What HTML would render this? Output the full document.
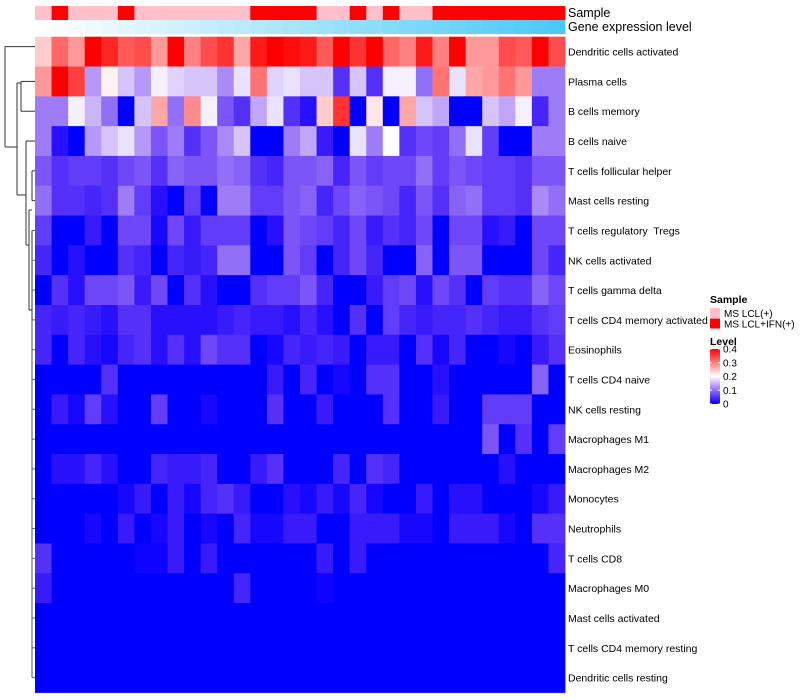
<!DOCTYPE html>
<html><head><meta charset="utf-8">
<style>
body{margin:0;background:#fff;}
svg{display:block;font-family:"Liberation Sans",Arial,sans-serif;}
text{white-space:pre;}
</style></head>
<body>
<svg id="chart" width="800" height="700" viewBox="0 0 800 700">
<g id="dendro" stroke="#333" stroke-width="1" fill="none"></g>
<g id="annot"></g>
<g id="cells"></g>
<g id="labels"></g>
<g id="legend"></g>
</svg>
<script>
const rowNames=["Dendritic cells activated","Plasma cells","B cells memory","B cells naive","T cells follicular helper","Mast cells resting","T cells regulatory  Tregs","NK cells activated","T cells gamma delta","T cells CD4 memory activated","Eosinophils","T cells CD4 naive","NK cells resting","Macrophages M1","Macrophages M2","Monocytes","Neutrophils","T cells CD8","Macrophages M0","Mast cells activated","T cells CD4 memory resting","Dendritic cells resting"];
const sampleGroup=[0,1,0,0,0,1,0,0,0,0,0,0,0,1,1,1,1,0,0,1,0,1,0,0,1,1,1,1,1,1,1,1];
const sampleNames=["MS LCL(+)","MS LCL+IFN(+)"];
const legendTicks=[0.4,0.3,0.2,0.1,0];
const r0=[0.24,0.32,0.28,0.4,0.37,0.33,0.34,0.28,0.4,0.3,0.34,0.36,0.27,0.38,0.4,0.39,0.38,0.33,0.4,0.36,0.4,0.32,0.3,0.38,0.3,0.4,0.28,0.28,0.34,0.33,0.4,0.34];
const r1=[0.28,0.4,0.35,0.13,0.21,0.16,0.13,0.19,0.17,0.16,0.16,0.12,0.18,0.31,0.17,0.18,0.16,0.16,0.05,0.16,0.05,0.19,0.19,0.1,0.31,0.18,0.27,0.28,0.31,0.28,0.11,0.11];
const r2=[0.11,0.11,0.19,0.15,0.1,0,0.16,0.27,0.1,0.29,0.19,0.08,0.05,0.14,0.18,0.05,0.02,0.24,0.36,0,0.22,0,0.27,0.16,0.14,0,0,0.16,0.14,0.19,0.04,0.11];
const r3=[0.11,0.02,0,0.13,0.16,0.18,0.13,0.08,0.11,0.05,0.08,0.12,0.16,0,0,0.11,0.14,0.03,0,0.18,0.11,0.2,0.05,0.07,0.06,0.1,0.18,0.06,0,0,0.11,0.11];
const r4=[0.08,0.05,0.06,0.06,0.05,0.07,0.08,0.05,0.09,0.08,0.08,0.1,0.09,0.05,0.04,0.08,0.08,0.09,0.04,0.08,0.06,0.07,0.07,0.1,0.06,0.08,0.07,0.06,0.06,0.05,0.08,0.08];
const r5=[0.1,0.05,0.05,0.04,0.05,0.11,0.06,0.02,0,0.06,0,0.11,0.11,0.06,0.06,0.08,0.09,0.04,0.07,0.09,0.08,0.07,0.04,0.08,0.05,0.09,0.1,0.06,0.06,0.05,0.12,0.1];
const r6=[0.06,0,0,0.03,0,0.07,0.07,0.01,0.07,0.03,0.06,0.06,0.06,0,0.02,0.08,0.07,0.06,0.04,0.07,0.03,0.05,0.04,0.07,0,0.07,0.07,0.02,0.03,0,0.07,0.07];
const r7=[0.04,0,0.02,0,0,0.05,0.04,0,0.04,0.03,0.04,0.1,0.1,0,0,0.08,0.06,0,0.04,0.07,0.04,0,0,0.09,0,0.08,0.08,0,0,0,0.07,0.04];
const r8=[0,0.05,0.02,0.07,0.07,0.08,0.03,0.07,0,0.05,0.02,0,0,0.05,0.06,0.06,0.08,0.04,0,0,0.03,0.06,0.07,0.02,0.07,0.05,0,0.06,0.05,0.05,0.09,0.07];
const r9=[0.04,0.03,0.04,0.03,0.02,0.05,0.05,0.02,0.02,0.02,0.02,0.03,0.04,0.03,0.03,0.02,0.04,0.02,0,0.05,0,0.06,0.04,0.03,0.04,0.04,0.05,0.04,0.03,0.03,0.05,0.06];
const r10=[0.04,0,0.04,0.02,0.01,0.04,0.05,0.02,0.05,0.02,0.07,0.05,0.05,0,0.01,0.04,0.03,0.04,0.03,0,0.03,0.03,0,0.05,0.01,0.04,0,0,0.01,0,0.03,0.05];
const r11=[0,0,0,0,0.05,0,0,0,0,0,0,0,0,0,0.03,0,0.04,0,0.01,0,0.05,0.05,0,0,0.02,0,0,0,0,0,0.09,0];
const r12=[0,0.03,0.01,0.06,0.02,0,0,0.06,0,0,0.01,0,0,0,0.05,0,0,0.03,0,0,0,0.05,0,0,0.03,0,0,0.06,0.06,0.06,0,0];
const r13=[0,0,0,0,0,0,0,0,0,0,0,0,0,0,0,0,0,0,0,0,0,0,0,0,0,0,0,0.08,0,0.05,0,0.06];
const r14=[0,0.02,0.02,0.04,0.02,0,0,0.04,0.03,0.03,0.04,0,0,0.03,0.05,0,0,0,0.04,0,0.05,0.04,0,0,0,0,0,0,0.02,0,0,0];
const r15=[0,0,0,0,0,0.01,0.03,0,0.03,0.01,0.04,0.05,0.03,0,0,0.02,0.01,0.03,0.01,0.04,0.01,0,0,0.03,0,0.02,0.02,0,0,0,0.01,0.03];
const r16=[0,0,0,0.01,0,0.03,0,0.01,0.03,0,0.01,0,0.04,0.01,0.01,0.03,0.03,0,0,0.03,0.03,0.03,0.01,0.01,0,0.03,0.03,0.03,0.01,0,0.05,0.05];
const r17=[0.05,0,0,0,0,0,0.005,0.005,0.03,0,0.03,0,0,0,0,0,0,0.03,0,0.03,0,0,0,0,0,0,0,0,0,0,0,0.04];
const r18=[0.03,0,0,0,0,0,0,0,0,0,0,0,0.04,0,0,0,0,0.005,0,0,0,0,0,0,0,0,0,0,0,0,0,0];
const r19=[0,0,0,0,0,0,0,0,0,0,0,0,0,0,0,0,0,0,0,0,0,0,0,0,0,0,0,0,0,0,0,0];
const r20=[0,0,0,0,0,0,0,0,0,0,0,0,0,0,0,0,0,0,0,0,0,0,0,0,0,0,0,0,0,0,0,0];
const r21=[0,0,0,0,0,0,0,0,0,0,0,0,0,0,0,0,0,0,0,0,0,0,0,0,0,0,0,0,0,0,0,0];
const values=[r0,r1,r2,r3,r4,r5,r6,r7,r8,r9,r10,r11,r12,r13,r14,r15,r16,r17,r18,r19,r20,r21];

const NS="http://www.w3.org/2000/svg";
const X0=35,X1=565,Y0=36.7,Y1=692.5;
const nC=values[0].length,nR=values.length;
const cw=(X1-X0)/nC,rh=(Y1-Y0)/nR;
const xPos=c=>X0+c*cw;
const yPos=r=>Y0+r*rh;
function col(v){
  const t=Math.max(0,Math.min(0.4,v));
  let r,g,b;
  if(t<=0.2){const f=t/0.2;r=255*Math.pow(f,0.8);g=255*Math.pow(f,1.2);b=255-8*Math.sin(Math.PI*f);}
  else{const f=(t-0.2)/0.2;r=255;g=255*(1-f);b=255*(1-f);}
  return `rgb(${Math.round(r)},${Math.round(g)},${Math.round(b)})`;
}
function mk(tag,attrs,parent){const e=document.createElementNS(NS,tag);for(const k in attrs)e.setAttribute(k,attrs[k]);parent.appendChild(e);return e;}

const cells=document.getElementById('cells');
for(let r=0;r<nR;r++)for(let c=0;c<nC;c++){
  const e=mk('rect',{x:xPos(c),y:yPos(r),width:cw+0.4,height:rh+0.4,fill:col(values[r][c])},cells);
  
  
}
const annot=document.getElementById('annot');
for(let c=0;c<nC;c++){
  const s=mk('rect',{x:xPos(c),y:6,width:cw+0.4,height:14,fill:sampleGroup[c]?'#ff0000':'#ffc0cb'},annot);
  
  
  const f=c/(nC-1);
  const g=mk('rect',{x:xPos(c),y:20,width:cw+0.4,height:14,fill:`rgb(${Math.round(255-(255-76)*f)},${Math.round(255-(255-200)*f)},${Math.round(255-(255-248)*f)})`},annot);
  
  
}
const t1=mk('text',{x:568,y:17,'font-size':12.5,fill:'#000'},annot);t1.textContent='Sample';


const t2=mk('text',{x:568,y:31,'font-size':12.5,fill:'#000'},annot);t2.textContent='Gene expression level';



const labels=document.getElementById('labels');
rowNames.forEach((n,i)=>{
  const t=mk('text',{x:568,y:yPos(i)+rh/2+4,'font-size':10.5,fill:'#000'},labels);
  t.textContent=n;
  
  
});

const d=document.getElementById('dendro');
const yc=i=>yPos(i)+rh/2;
function ln(x1,y1,x2,y2,c){mk('line',{x1,y1,x2,y2,stroke:c||'#333'},d);}
ln(5,yc(0)-5,5,147);ln(5,yc(0)-5,35,yc(0)-5);ln(5,147,17,147);
ln(17,83,17,195);ln(17,83,21,83);ln(21,yc(1),21,yc(2));ln(21,yc(1),35,yc(1));ln(21,yc(2),35,yc(2));
ln(17,195,26,195);ln(26,yc(3),26,245);ln(26,yc(3),35,yc(3));ln(26,245,29,245);
ln(29,210,29,310);ln(29,210,32,210);ln(32,yc(4),32,yc(5));ln(32,yc(4),35,yc(4));ln(32,yc(5),35,yc(5));
ln(29,310,32,310);ln(32,yc(6),32,yc(9));
for(let i=6;i<=21;i++)ln(32,yc(i),35,yc(i),'#666');
ln(32,yc(9),32,yc(21),'#555');

const lg=document.getElementById('legend');
const lt=mk('text',{x:710,y:303,'font-size':10.5,'font-weight':'bold'},lg);lt.textContent='Sample';


sampleNames.forEach((n,i)=>{
  const r=mk('rect',{x:710,y:308+i*10.5,width:10,height:10,fill:i?'#ff0000':'#ffc0cb'},lg);
  
  
  const t=mk('text',{x:724,y:317+i*10.5,'font-size':10},lg);t.textContent=n;
  
  
});
const lv=mk('text',{x:710,y:345,'font-size':10.5,'font-weight':'bold'},lg);lv.textContent='Level';


const defs=mk('defs',{},lg);
const grad=mk('linearGradient',{id:'lvl',x1:0,y1:1,x2:0,y2:0},defs);
[0,0.05,0.1,0.15,0.2,0.3,0.4].forEach(v=>mk('stop',{offset:v/0.4,'stop-color':col(v)},grad));
const cb=mk('rect',{x:710,y:349,width:10,height:55,fill:'url(#lvl)'},lg);


legendTicks.forEach(v=>{
  const y=404-v/0.4*55;
  mk('line',{x1:710,y1:y,x2:712,y2:y,stroke:'#fff'},lg);
  mk('line',{x1:718,y1:y,x2:720,y2:y,stroke:'#fff'},lg);
  const t=mk('text',{x:723,y:y+3.5,'font-size':10},lg);t.textContent=String(v);
  
  
});
</script>
</body></html>
